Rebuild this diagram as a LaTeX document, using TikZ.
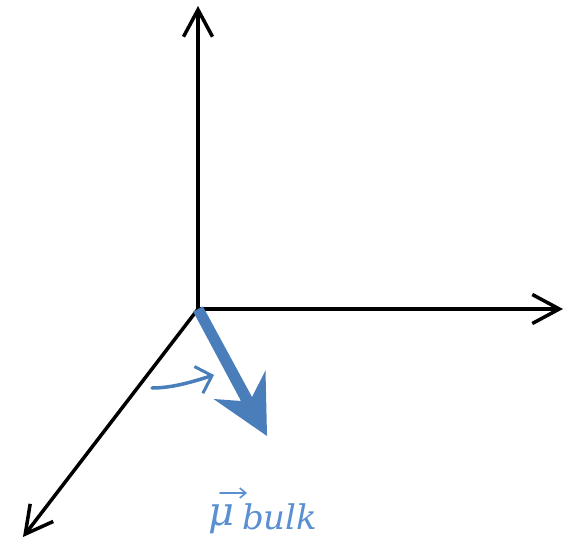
\documentclass[tikz,border=0pt]{standalone}
\usepackage{fontspec}
\newfontfamily\lblfont{DejaVu Serif}
\usetikzlibrary{arrows.meta}
\definecolor{vecblue}{HTML}{4A7EBB}
\definecolor{lblblue}{HTML}{5A8FD2}
\begin{document}
\begin{tikzpicture}[x=1pt,y=-1pt,
  axis/.style={line width=3.5pt, line cap=round, -{Straight Barb[length=27pt,width=29pt,line width=3.5pt]}},
  smallarr/.style={vecblue, line width=3.5pt, line cap=round, -{Straight Barb[length=14pt,width=28pt,line width=3pt]}},
  lbl/.style={lblblue, anchor=base west, inner sep=0pt}]
\useasboundingbox (0,0) rectangle (565,540);
\coordinate (O) at (198,309);
\coordinate (up) at (198,6);
\coordinate (rt) at (563,309);
\coordinate (dl) at (23,537);
\draw[axis] (O) -- (up);
\draw[axis] (O) -- (rt);
\draw[axis] (O) -- (dl);
% blue vector
\fill[vecblue] (193.2,311.6) -- (241,401) -- (213.5,399) -- (267,436) -- (265.5,370.5) -- (252,397) -- (202.9,306.4) -- cycle;
\coordinate (cs) at (152,388);
\coordinate (ce) at (214,375);
\draw[smallarr] (cs) .. controls (172,388) and (192,382) .. (ce);
% label
\node[lbl, font=\lblfont\itshape\fontsize{40}{44}\selectfont] (mu) at (208,525) {μ};
\node[lbl, font=\lblfont\itshape\fontsize{34}{38}\selectfont] (bulk) at (242,529) {bulk};
\coordinate (va) at (220,493);
\coordinate (vb) at (247,493);
\draw[lblblue, line width=1.8pt, line cap=round, -{Straight Barb[length=6pt,width=10pt,line width=1.6pt]}] (va) -- (vb);
\end{tikzpicture}
\end{document}
